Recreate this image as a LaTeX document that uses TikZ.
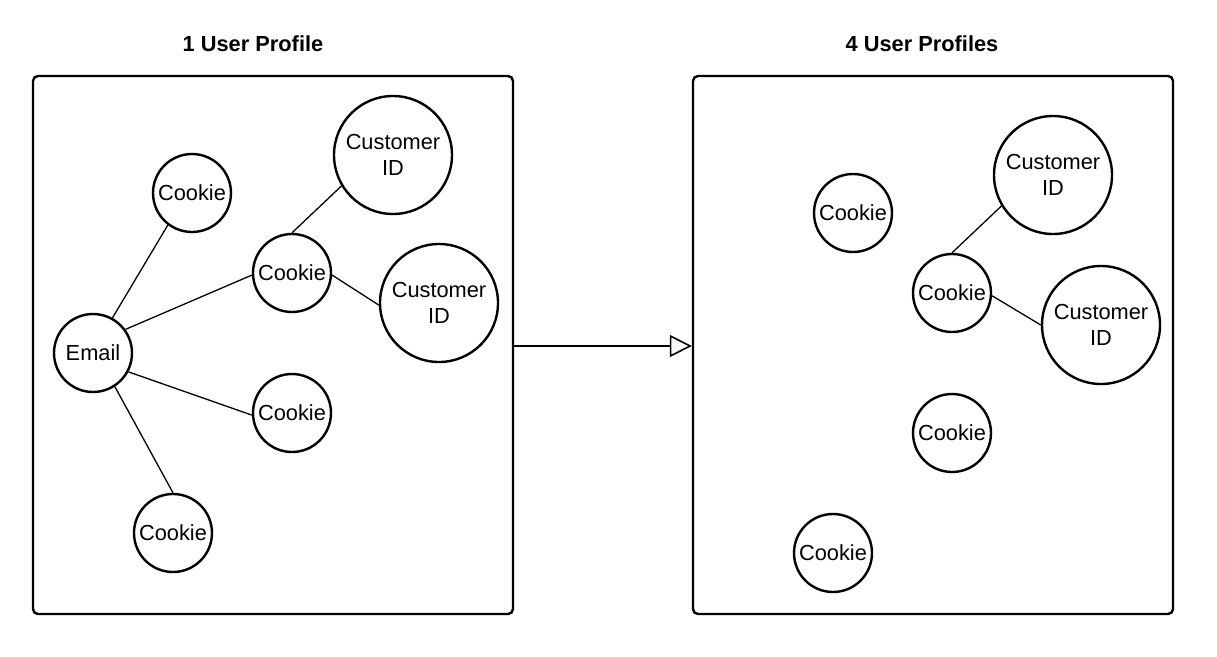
\documentclass[tikz,border=0pt]{standalone}
\usepackage{fontspec}
\setmainfont{Liberation Sans}
\usetikzlibrary{arrows.meta}
\begin{document}
\begin{tikzpicture}[x=1pt,y=-1pt,
  small/.style={circle,draw,line width=2.4pt,minimum size=78pt,inner sep=0pt,font=\fontsize{21.8}{26}\selectfont},
  big/.style={circle,draw,line width=2.4pt,minimum size=118pt,inner sep=0pt,align=center,font=\fontsize{21.8}{26}\selectfont},
  frame/.style={draw,line width=2.4pt,rounded corners=5pt},
  title/.style={font=\fontsize{21.8}{26}\selectfont\bfseries},
  link/.style={line width=1.3pt}]
\useasboundingbox (0,0) rectangle (1217,656);
\node[title] (t1) at (253,44) {1 User Profile};
\node[title] (t2) at (922,44) {4 User Profiles};
\node[frame,minimum width=480pt,minimum height=538pt,inner sep=0pt] (L) at (273,345) {};
\node[frame,minimum width=480pt,minimum height=538pt,inner sep=0pt] (R) at (933,345) {};
% left
\node[small] (lc1) at (192,193) {Cookie};
\node[big] (lid1) at (393,155) {Customer\\ID};
\node[small] (lc2) at (292,273) {Cookie};
\node[big] (lid2) at (439,303) {Customer\\ID};
\node[small] (em) at (93,353) {Email};
\node[small] (lc3) at (292,413) {Cookie};
\node[small] (lc4) at (173,533) {Cookie};
\draw[link] (em.61) -- (lc1.233);
\draw[link] (em.36) -- (lc2.183);
\draw[link] (em.332) -- (lc3.183);
\draw[link] (em.303) -- (lc4.90);
\draw[link] (lc2.90) -- (lid1.211);
\draw[link] (lc2.357) -- (lid2.182);
% right
\node[small] (rc1) at (853,213) {Cookie};
\node[big] (rid1) at (1053,175) {Customer\\ID};
\node[small] (rc2) at (952,293) {Cookie};
\node[big] (rid2) at (1101,325) {Customer\\ID};
\node[small] (rc3) at (952,433) {Cookie};
\node[small] (rc4) at (833,553) {Cookie};
\draw[link] (rc2.90) -- (rid1.211);
\draw[link] (rc2.356) -- (rid2.180);
% arrow
\draw[line width=1.6pt,-{Triangle[open,length=22pt,width=22pt,line width=1.6pt]}] (L.east |- 0,346) -- (R.west |- 0,346);
\end{tikzpicture}
\end{document}
